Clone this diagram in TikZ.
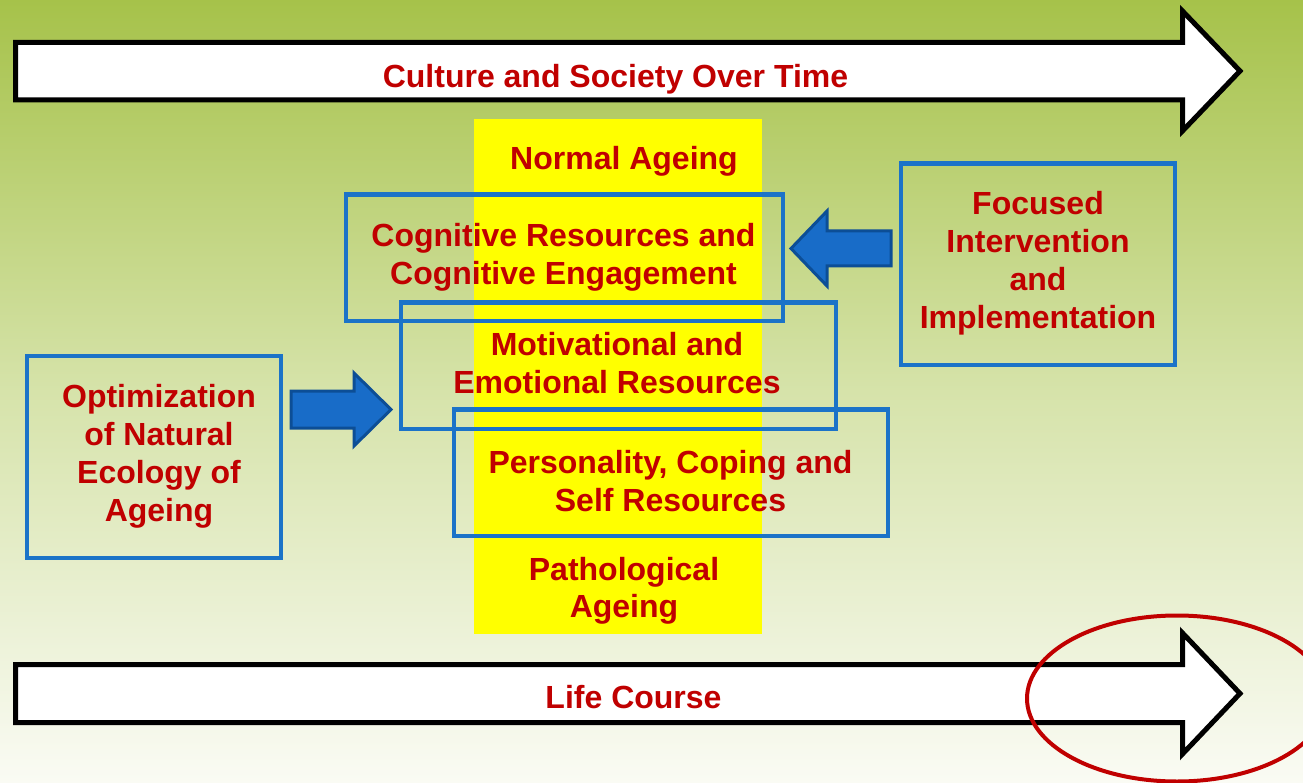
\documentclass[tikz,border=0pt]{standalone}
\usepackage{fontspec}
\setmainfont{Liberation Sans}
\definecolor{bgtop}{RGB}{166,194,74}
\definecolor{bgmid}{RGB}{214,227,170}
\definecolor{bgbot}{RGB}{250,251,244}
\definecolor{txtred}{RGB}{192,0,0}
\definecolor{boxblue}{RGB}{27,115,200}
\definecolor{arrfill}{RGB}{24,108,200}
\definecolor{arrdraw}{RGB}{12,78,150}
\definecolor{hiyellow}{RGB}{255,255,0}
\tikzset{
  lbl/.style={text=txtred, font=\bfseries\fontsize{32}{37.8}\selectfont, align=center, inner sep=0pt, anchor=center},
  bluebox/.style={draw=boxblue, line width=4.5pt},
  bigarrow/.style={draw=black, fill=white, line width=5pt, line join=miter},
  bluearrow/.style={draw=arrdraw, fill=arrfill, line width=3pt, line join=miter},
}
\begin{document}
\begin{tikzpicture}[x=1pt,y=-1pt]
\useasboundingbox (0,0) rectangle (1303,783);
\clip (0,0) rectangle (1303,783);
% background
\shade[top color=bgtop, bottom color=bgbot, middle color=bgmid] (0,0) rectangle (1303,783);
% top arrow
\draw[bigarrow] (15.5,42.5) -- (1182.5,42.5) -- (1182.5,11) -- (1240,71) -- (1182.5,131) -- (1182.5,100) -- (15.5,100) -- cycle;
\node[lbl] (culture) at (615.5,79.5) {\strut Culture and Society Over Time};
% bottom arrow
\draw[bigarrow] (15.5,664.5) -- (1182.5,664.5) -- (1182.5,633) -- (1240,693.5) -- (1182.5,754) -- (1182.5,722.5) -- (15.5,722.5) -- cycle;
\node[lbl] (life) at (633.5,701) {\strut Life Course};
% yellow band
\fill[hiyellow] (474,119) rectangle (762,634);
% blue boxes
\draw[bluebox] (346,194.5) rectangle (783,321);
\draw[bluebox] (401,302.5) rectangle (836,429);
\draw[bluebox] (454,409.5) rectangle (888,536);
\draw[bluebox] (27,356) rectangle (281,558);
\draw[bluebox] (901,163.5) rectangle (1175,365);
% blue arrows
\draw[bluearrow] (291,391) -- (354,391) -- (354,373) -- (391,409.5) -- (354,446) -- (354,428) -- (291,428) -- cycle;
\draw[bluearrow] (891,231) -- (827,231) -- (827,211) -- (791,248.5) -- (827,286) -- (827,266) -- (891,266) -- cycle;
% labels
\node[lbl] (normal) at (624,161.5) {\strut Normal Ageing};
\node[lbl] (cog) at (563.5,258) {\strut Cognitive Resources and\\\strut Cognitive Engagement};
\node[lbl] (mot) at (617,367) {\strut Motivational and\\\strut Emotional Resources};
\node[lbl] (pers) at (670.5,485) {\strut Personality, Coping and\\\strut Self Resources};
\node[lbl] (path) at (624,591.5) {\strut Pathological\\\strut Ageing};
\node[lbl] (opt) at (159,457) {\strut Optimization\\\strut of Natural\\\strut Ecology of\\\strut Ageing};
\node[lbl] (foc) at (1038,264) {\strut Focused\\\strut Intervention\\\strut and\\\strut Implementation};
% red ellipse
\draw[txtred, line width=4pt] (1177,698.5) ellipse [x radius=150, y radius=83];
\end{tikzpicture}
\end{document}
